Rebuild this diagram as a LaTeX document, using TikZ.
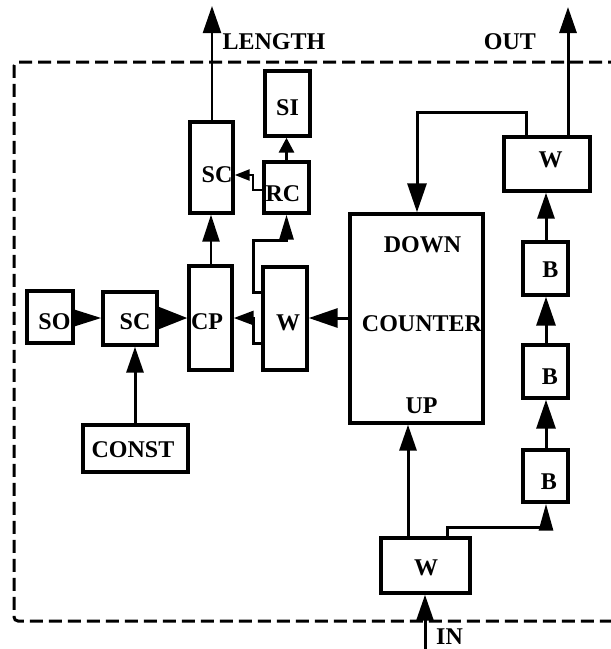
\documentclass[tikz,border=0pt]{standalone}
\usepackage{fontspec}
\setmainfont{Liberation Serif}
\usetikzlibrary{arrows.meta}
\begin{document}
\begin{tikzpicture}[x=1pt,y=-1pt,
  box/.style={draw,line width=3.4pt,inner sep=0pt},
  lbl/.style={font=\bfseries\fontsize{24}{24}\selectfont,inner sep=0pt},
  wire/.style={line width=3pt},
  thinwire/.style={line width=2.4pt},
  arr/.style={wire,-{Triangle[length=26pt,width=17pt]}},
  bigarr/.style={wire,-{Triangle[length=29pt,width=19pt]}},
  midarr/.style={wire,-{Triangle[length=20pt,width=14pt]}},
  smallarr/.style={wire,-{Triangle[length=15pt,width=15pt]}},
  tinyarr/.style={line width=2.4pt,-{Triangle[length=15pt,width=11pt]}},
  frame/.style={line width=3pt,dash pattern=on 13pt off 6pt,rounded corners=4pt}]
\useasboundingbox (0,0) rectangle (611,649);
% frame
\draw[frame] (640,62) -- (14,62) -- (14,621) -- (640,621);
% boxes
\node[box,minimum width=43pt,minimum height=91pt] (sct) at (211.5,167.5) {};
\node[box,minimum width=45pt,minimum height=65pt] (si) at (287.5,103.5) {};
\node[box,minimum width=45pt,minimum height=51pt] (rc) at (286.5,187.5) {};
\node[box,minimum width=43pt,minimum height=104pt] (cp) at (210.5,318) {};
\node[box,minimum width=44pt,minimum height=103pt] (wm) at (285,318.5) {};
\node[box,minimum width=133pt,minimum height=209pt] (cnt) at (416.5,318.5) {};
\node[box,minimum width=86pt,minimum height=54pt] (wt) at (547,164) {};
\node[box,minimum width=45pt,minimum height=53pt] (b1) at (545.5,268.5) {};
\node[box,minimum width=45pt,minimum height=53pt] (b2) at (545.5,371.5) {};
\node[box,minimum width=45pt,minimum height=52pt] (b3) at (545.5,476) {};
\node[box,minimum width=89pt,minimum height=55pt] (wb) at (425.5,565.5) {};
\node[box,minimum width=46pt,minimum height=52pt] (so) at (50,317) {};
\node[box,minimum width=54pt,minimum height=53pt] (scm) at (130,318.5) {};
\node[box,minimum width=105pt,minimum height=47pt] (const) at (135.5,448.5) {};
% labels
\node[lbl] (tlength) at (274,41.5) {LENGTH};
\node[lbl] (tout) at (510,41.5) {OUT};
\node[lbl] (tsi) at (287.5,107.5) {SI};
\node[lbl] (tsct) at (217,174.5) {SC};
\node[lbl] (trc) at (283,194) {RC};
\node[lbl] (tso) at (54.5,321.5) {SO};
\node[lbl] (tscm) at (135,321.5) {SC};
\node[lbl] (tcp) at (207,321.5) {CP};
\node[lbl] (twm) at (288,322.5) {W};
\node[lbl] (tconst) at (133,449.5) {CONST};
\node[lbl] (tdown) at (422.5,245) {DOWN};
\node[lbl] (tcounter) at (422,323.5) {COUNTER};
\node[lbl] (tup) at (421.5,405.5) {UP};
\node[lbl] (twt) at (550.5,160) {W};
\node[lbl] (tb1) at (550.5,270) {B};
\node[lbl] (tb2) at (550,376.5) {B};
\node[lbl] (tb3) at (549,481.5) {B};
\node[lbl] (twb) at (426,567.5) {W};
\node[lbl] (tin) at (449.5,637) {IN};
% free ends
\coordinate (lenend) at (212,6);
\coordinate (outend) at (568,7);
\coordinate (inend) at (425,652);
% connectors
\draw[thinwire,-{Triangle[length=27pt,width=18pt]}] (sct.north -| lenend) -- (lenend);
\draw[arr] (wt.north -| outend) -- (outend);
\draw[smallarr] (rc.north) -- (si.south -| rc.north);
\draw[tinyarr] (rc.west |- 0,190) -| (253,175) -- (sct.east |- 0,175);
\draw[thinwire,-{Triangle[length=27pt,width=17pt]}] (cp.north -| 211,0) -- (sct.south -| 211,0);
\draw[wire,-{Triangle[length=25pt,width=14pt]}] (wm.west |- 0,292) -| (253,240) -| (rc.south);
\draw[midarr] (wm.west |- 0,343) -| (253,318) -- (cp.east |- 0,318);
\draw[bigarr] (cnt.west |- 0,318) -- (wm.east |- 0,318);
\draw[bigarr] (wt.north -| 526,0) |- (417,112) -- (cnt.north -| 417,0);
\draw[arr] (b1.north -| 546,0) -- (wt.south -| 546,0);
\draw[bigarr] (b2.north -| 546,0) -- (b1.south -| 546,0);
\draw[bigarr] (b3.north -| 546,0) -- (b2.south -| 546,0);
\draw[arr] (wb.north -| 408,0) -- (cnt.south -| 408,0);
\draw[wire,-{Triangle[length=27pt,width=14pt]}] (wb.north -| 447,0) |- (546,527) -- (b3.south -| 546,0);
\draw[arr] (inend) -- (wb.south -| inend);
\draw[wire,-{Triangle[length=30pt,width=18pt]}] (so.east |- 0,318) -- (scm.west |- 0,318);
\draw[wire,-{Triangle[length=29pt,width=22pt]}] (scm.east |- 0,318) -- (cp.west |- 0,318);
\draw[arr] (const.north -| 135,0) -- (scm.south -| 135,0);
\end{tikzpicture}
\end{document}
